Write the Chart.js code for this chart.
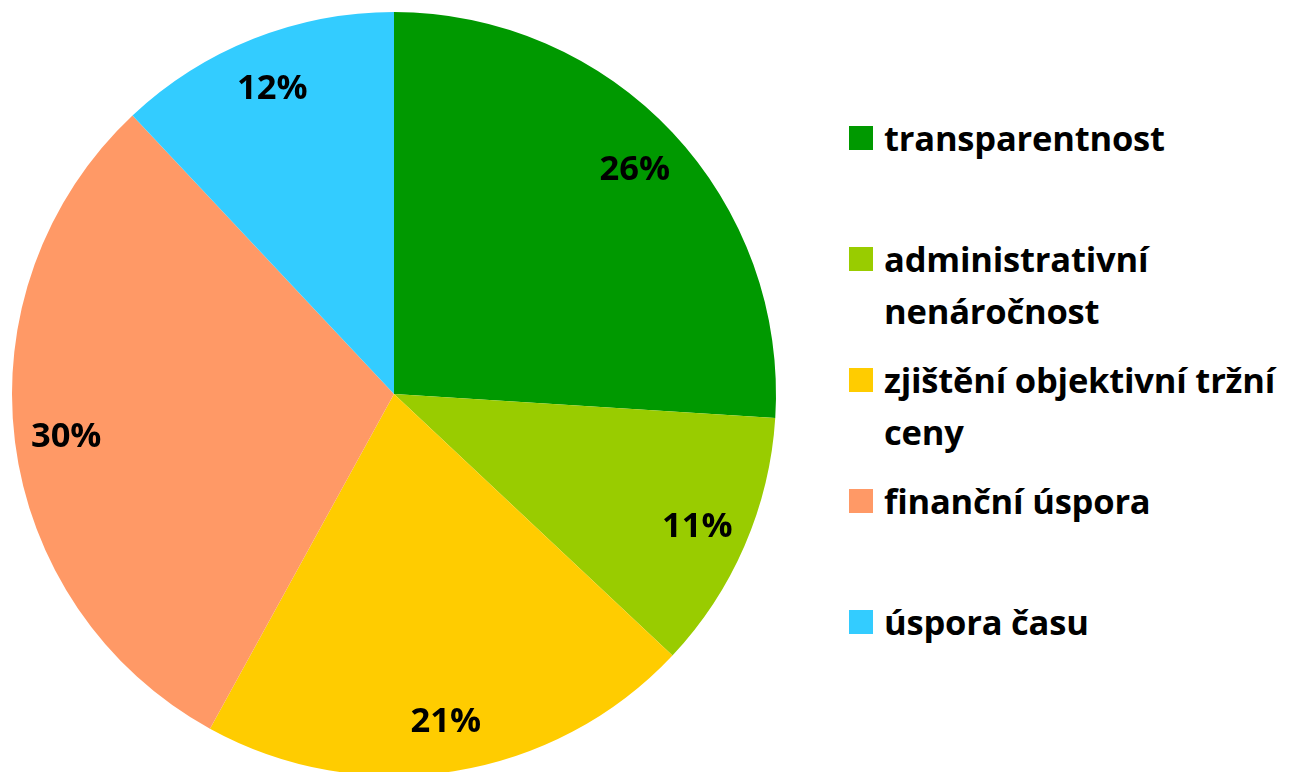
<!DOCTYPE html>
<html>
<head>
<meta charset="utf-8">
<script src="https://cdn.jsdelivr.net/npm/chart.js@4/dist/chart.umd.min.js"></script>
<style>
    html, body { margin: 0; padding: 0; background: #fff; overflow: hidden; }
    body { width: 1290px; height: 772px; position: relative; font-family: "Open Sans", Lato, sans-serif; }
    #pieBox { position: absolute; left: 0; top: 0; width: 788px; height: 776px; }
    #legend { position: absolute; left: 849px; top: 112px; }
    .item { height: 121px; display: flex; align-items: flex-start; }
    .swatch { width: 24px; height: 24px; margin-top: 14px; flex: none; }
    .text { margin-left: 11px; font-weight: bold; font-size: 34.5px; line-height: 52px; color: #000; white-space: nowrap; letter-spacing: -0.2px; }
</style>
</head>
<body>
<div id="pieBox"><canvas id="pieChart"></canvas></div>
<div id="legend"></div>
<script>
// Data
const categories = [
    ['transparentnost'],
    ['administrativní', 'nenáročnost'],
    ['zjištění objektivní tržní', 'ceny'],
    ['finanční úspora'],
    ['úspora času']
];
const shares = [26, 11, 21, 30, 12];
const sliceColors = ['#009900', '#99cc00', '#ffcc00', '#ff9966', '#33ccff'];

// Percent labels drawn inside each slice near the rim
const percentLabels = {
    id: 'percentLabels',
    afterDatasetsDraw(chart) {
        const ctx = chart.ctx;
        const meta = chart.getDatasetMeta(0);
        ctx.save();
        ctx.font = 'bold 34.5px "Open Sans", Lato, sans-serif';
        ctx.fillStyle = '#000';
        ctx.textAlign = 'center';
        ctx.textBaseline = 'middle';
        meta.data.forEach((arc, i) => {
            const p = arc.getProps(['x', 'y', 'startAngle', 'endAngle', 'outerRadius'], true);
            const mid = (p.startAngle + p.endAngle) / 2;
            const r = p.outerRadius * 0.865;
            ctx.fillText(shares[i] + '%', p.x + Math.cos(mid) * r, p.y + Math.sin(mid) * r + 2);
        });
        ctx.restore();
    }
};

new Chart(document.getElementById('pieChart').getContext('2d'), {
    type: 'pie',
    data: {
        labels: categories.map(c => c.join(' ')),
        datasets: [{
            data: shares,
            backgroundColor: sliceColors,
            borderWidth: 0
        }]
    },
    options: {
        responsive: true,
        maintainAspectRatio: false,
        animation: false,
        layout: { padding: { top: 12, bottom: 0, left: 12, right: 12 } },
        plugins: {
            legend: { display: false },
            tooltip: { enabled: false }
        }
    },
    plugins: [percentLabels]
});

// Legend on the right
document.getElementById('legend').innerHTML = categories.map((lines, i) => `
    <div class="item">
        <div class="swatch" style="background:${sliceColors[i]}"></div>
        <div class="text">${lines.join('<br>')}</div>
    </div>
`).join('');
</script>
</body>
</html>
